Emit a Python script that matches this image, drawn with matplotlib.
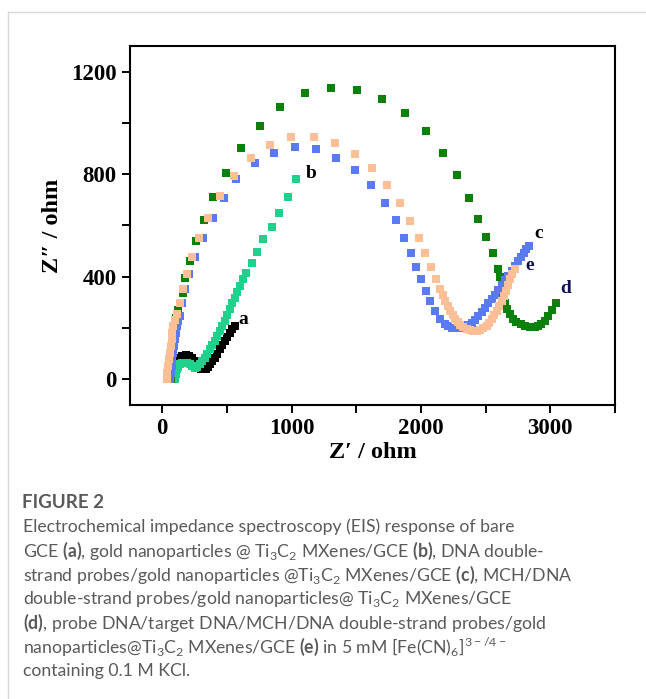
import numpy as np
import matplotlib.pyplot as plt

# Nyquist data (Z' ohm, Z'' ohm)
a_x = [85, 97, 115, 132, 149, 168, 187, 206, 226, 245, 264, 284, 303, 320, 336, 352, 367, 386, 405, 425, 444, 463, 482, 501, 520, 540, 559]
a_y = [0, 26, 72, 84, 91, 93, 94, 91, 84, 71, 58, 47, 39, 39, 39, 47, 58, 71, 84, 100, 117, 134, 150, 166, 182, 196, 208]

b_x = [97, 104, 110, 123, 136, 155, 174, 194, 213, 232, 251, 270, 290, 309, 328, 347, 367, 386, 405, 425, 444, 463, 482, 501, 520, 540, 559, 578, 597, 623, 649, 692, 731, 782, 849, 905, 969, 1033]
b_y = [0, 20, 39, 50, 58, 63, 65, 63, 58, 51, 45, 50, 58, 70, 84, 100, 117, 133, 150, 169, 189, 208, 228, 250, 273, 296, 319, 342, 364, 390, 416, 455, 498, 546, 594, 650, 711, 780]

c_x = [59, 65, 72, 78, 85, 91, 97, 104, 110, 123, 136, 151, 174, 205, 251, 315, 392, 477, 572, 720, 862, 1026, 1192, 1346, 1490, 1615, 1718, 1803, 1872, 1926, 1964, 2002,
       2038, 2072, 2110, 2149, 2187, 2212, 2238, 2264, 2290, 2315, 2341, 2366, 2392, 2418, 2443, 2469, 2495, 2520, 2546, 2572, 2597, 2623, 2649, 2674, 2700, 2726, 2751, 2774, 2797, 2815, 2833]
c_y = [0, 26, 52, 78, 104, 130, 156, 182, 208, 228, 247, 299, 351, 410, 478, 553, 628, 709, 780, 842, 884, 906, 897, 865, 816, 757, 689, 621, 553, 491, 437, 390,
       345, 306, 267, 234, 215, 207, 202, 200, 200, 202, 205, 212, 221, 233, 247, 263, 280, 296, 312, 330, 348, 367, 387, 405, 423, 442, 462, 478, 494, 507, 520]

d_x = [65, 75, 85, 95, 105, 120, 136, 158, 179, 213, 259, 320, 392, 490, 610, 756, 913, 1103, 1305, 1505, 1700, 1879, 2038, 2174, 2282, 2372, 2443, 2505, 2556, 2592,
       2608, 2623, 2636, 2649, 2668, 2687, 2712, 2738, 2770, 2802, 2840, 2879, 2905, 2931, 2957, 2982, 3014, 3046]
d_y = [0, 60, 120, 180, 240, 270, 299, 335, 396, 461, 540, 620, 711, 806, 901, 988, 1062, 1115, 1135, 1128, 1095, 1040, 967, 881, 797, 708, 627, 555, 491, 432,
       398, 364, 331, 299, 275, 253, 237, 224, 214, 208, 205, 205, 208, 214, 228, 247, 272, 299]

e_x = [33, 40, 46, 52, 59, 65, 72, 78, 85, 100, 115, 136, 162, 192, 233, 285, 354, 444, 554, 687, 833, 995, 1169, 1336, 1487, 1623, 1738, 1841, 1918, 1982, 2033, 2079, 2115, 2149,
       2168, 2187, 2206, 2226, 2245, 2264, 2284, 2303, 2328, 2354, 2380, 2405, 2430, 2456, 2482, 2508, 2527, 2546, 2566, 2585, 2604, 2623, 2638, 2654, 2670, 2687, 2706, 2726]
e_y = [0, 26, 52, 78, 104, 130, 156, 182, 208, 231, 254, 299, 351, 410, 478, 553, 631, 715, 793, 862, 914, 945, 945, 923, 880, 823, 758, 689, 618, 550, 491, 437, 393, 351,
       328, 306, 286, 267, 250, 234, 222, 211, 203, 195, 191, 189, 190, 192, 199, 208, 220, 234, 250, 267, 286, 306, 325, 345, 367, 390, 410, 429]

labels = ['a', 'b', 'c', 'd', 'e']
label_pos = [(622, 234), (1154, 804), (2910, 569), (3118, 355), (2841, 444)]
label_col = ['black', 'black', 'black', '#101050', '#101050']

plt.rcParams['mathtext.fontset'] = 'custom'
plt.rcParams['mathtext.rm'] = 'Lato'
plt.rcParams['mathtext.bf'] = 'Lato:bold'

fig = plt.figure(figsize=(6.46, 6.99), dpi=100)
ax = fig.add_axes([0.2012, 0.4206, 0.7508, 0.5136])

ms = 5.6
ax.plot(a_x, a_y, 's', color='black', ms=ms, mew=0)
ax.plot(b_x, b_y, 's', color='#1ed28c', ms=ms, mew=0)
ax.plot(d_x, d_y, 's', color='#0b800b', ms=ms, mew=0)
ax.plot(c_x, c_y, 's', color='#5a7af2', ms=ms, mew=0)
ax.plot(e_x, e_y, 's', color='#fdbf95', ms=ms, mew=0)

for lab, (lx, ly), col in zip(labels, label_pos, label_col):
    ax.text(lx, ly, lab, color=col, fontsize=14, fontweight='bold', family='Liberation Serif',
            ha='center', va='center')

ax.set_xlim(-250, 3500)
ax.set_ylim(-100, 1300)
ax.set_xticks([0, 1000, 2000, 3000])
ax.set_xticks([500, 1500, 2500, 3500], minor=True)
ax.set_yticks([0, 400, 800, 1200])
ax.set_yticks([200, 600, 1000], minor=True)
ax.tick_params(which='both', direction='out', length=5.5, width=1.4, labelsize=16.5, pad=4)
for lbl in ax.get_xticklabels() + ax.get_yticklabels():
    lbl.set_family('Liberation Serif')
    lbl.set_fontweight('bold')
for s in ax.spines.values():
    s.set_linewidth(1.5)

ax.set_xlabel('Z\u2032 / ohm', family='Liberation Serif', fontweight='bold', fontsize=17.5, labelpad=2)
ax.set_ylabel('Z\u2033 / ohm', family='Liberation Serif', fontweight='bold', fontsize=17.5, labelpad=6)

# card border
fig.add_artist(plt.Line2D([8 / 646, 8 / 646], [0, 1 - 12 / 699], color='#d8d8d8', lw=1))
fig.add_artist(plt.Line2D([8 / 646, 1], [1 - 12 / 699, 1 - 12 / 699], color='#d8d8d8', lw=1))

cap = '#5a5a5a'
fig.text(22 / 646, 1 - 503 / 699, 'FIGURE 2', family='Lato', fontweight='bold', fontsize=13.5,
         color=cap, va='center')
lines = [
    'Electrochemical impedance spectroscopy (EIS) response of bare',
    r'GCE $\mathbf{(a)}$, gold nanoparticles @ Ti$_3$C$_2$ MXenes/GCE $\mathbf{(b)}$, DNA double-',
    r'strand probes/gold nanoparticles @Ti$_3$C$_2$ MXenes/GCE $\mathbf{(c)}$, MCH/DNA',
    r'double-strand probes/gold nanoparticles@ Ti$_3$C$_2$ MXenes/GCE',
    r'$\mathbf{(d)}$, probe DNA/target DNA/MCH/DNA double-strand probes/gold',
    'nanoparticles@Ti$_3$C$_2$ MXenes/GCE $\\mathbf{(e)}$ in 5 mM [Fe(CN)$_6$]$^{3\u2212/4\u2212}$',
    'containing 0.1 M KCl.',
]
for i, t in enumerate(lines):
    fig.text(23 / 646, 1 - (527 + 24 * i) / 699, t, family='Lato', fontsize=12.7, color=cap, va='center')

fig.savefig('out.png', dpi=100)
